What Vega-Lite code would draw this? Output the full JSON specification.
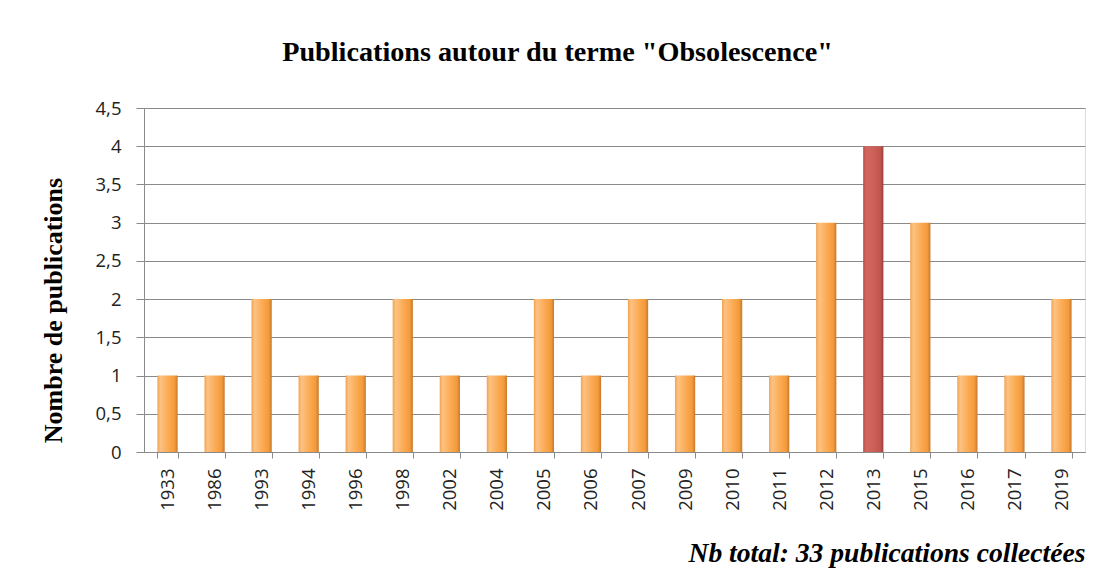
{
  "$schema": "https://vega.github.io/schema/vega-lite/v6.json",
  "autosize": "none",
  "width": 941,
  "height": 344,
  "padding": {"left": 144, "top": 108, "right": 9, "bottom": 129},
  "background": "white",
  "title": {
    "text": "Publications autour du terme \"Obsolescence\"",
    "font": "Liberation Serif",
    "fontSize": 28.2,
    "fontWeight": "bold",
    "color": "black",
    "anchor": "middle",
    "baseline": "alphabetic",
    "offset": 10,
    "dx": -57
  },
  "data": {
    "values": [
      {"year": "1933", "count": 1},
      {"year": "1986", "count": 1},
      {"year": "1993", "count": 2},
      {"year": "1994", "count": 1},
      {"year": "1996", "count": 1},
      {"year": "1998", "count": 2},
      {"year": "2002", "count": 1},
      {"year": "2004", "count": 1},
      {"year": "2005", "count": 2},
      {"year": "2006", "count": 1},
      {"year": "2007", "count": 2},
      {"year": "2009", "count": 1},
      {"year": "2010", "count": 2},
      {"year": "2011", "count": 1},
      {"year": "2012", "count": 3},
      {"year": "2013", "count": 4},
      {"year": "2015", "count": 3},
      {"year": "2016", "count": 1},
      {"year": "2017", "count": 1},
      {"year": "2019", "count": 2}
    ]
  },
  "encoding": {
    "x": {
      "field": "year",
      "type": "ordinal",
      "sort": null,
      "scale": {
        "domain": ["1933", "1986", "1993", "1994", "1996", "1998", "2002", "2004", "2005", "2006", "2007", "2009", "2010", "2011", "2012", "2013", "2015", "2016", "2017", "2019"],
        "paddingInner": 0.57,
        "paddingOuter": 0.285
      },
      "axis": {
        "title": "Nb total: 33 publications collectées",
        "titleFont": "Liberation Serif",
        "titleFontSize": 27.6,
        "titleFontWeight": "bold",
        "titleFontStyle": "italic",
        "titleColor": "black",
        "titleAnchor": "end",
        "titlePadding": 29,
        "labelAngle": -90,
        "labelFont": "Open Sans",
        "labelFontSize": 18.5,
        "labelColor": "#222",
        "labelPadding": 10,
        "tickBand": "extent",
        "tickSize": 6,
        "tickColor": "#8a8a8a",
        "domainColor": "#8a8a8a",
        "grid": false
      }
    },
    "y": {
      "field": "count",
      "type": "quantitative",
      "scale": {"domain": [0, 4.5], "nice": false},
      "axis": {
        "values": [0, 0.5, 1, 1.5, 2, 2.5, 3, 3.5, 4, 4.5],
        "labelExpr": "replace(toString(datum.value), '.', ',')",
        "labelFont": "Open Sans",
        "labelFontSize": 18.5,
        "labelColor": "#222",
        "labelPadding": 15,
        "tickSize": 8,
        "tickColor": "#8a8a8a",
        "domainColor": "#8a8a8a",
        "gridColor": "#8a8a8a",
        "gridOpacity": 1,
        "title": "Nombre de publications",
        "titleFont": "Liberation Serif",
        "titleFontSize": 26,
        "titleFontWeight": "bold",
        "titleColor": "black",
        "titleX": -91,
        "titleY": 202,
        "titleAngle": -90,
        "titleBaseline": "middle",
        "titleAlign": "center"
      }
    }
  },
  "layer": [
    {
      "transform": [{"filter": "datum.year != '2013'"}],
      "mark": {
        "type": "bar",
        "color": {
          "gradient": "linear",
          "x1": 0, "y1": 0, "x2": 1, "y2": 0,
          "stops": [
            {"offset": 0, "color": "#f2a24e"},
            {"offset": 0.15, "color": "#fcc283"},
            {"offset": 0.55, "color": "#fbaa52"},
            {"offset": 0.85, "color": "#f39a3c"},
            {"offset": 1, "color": "#c4792c"}
          ]
        }
      }
    },
    {
      "transform": [{"filter": "datum.year == '2013'"}],
      "mark": {
        "type": "bar",
        "color": {
          "gradient": "linear",
          "x1": 0, "y1": 0, "x2": 1, "y2": 0,
          "stops": [
            {"offset": 0, "color": "#b9504b"},
            {"offset": 0.15, "color": "#d2665f"},
            {"offset": 0.55, "color": "#cd5f58"},
            {"offset": 0.85, "color": "#c0554f"},
            {"offset": 1, "color": "#97403b"}
          ]
        }
      }
    }
  ]
}
